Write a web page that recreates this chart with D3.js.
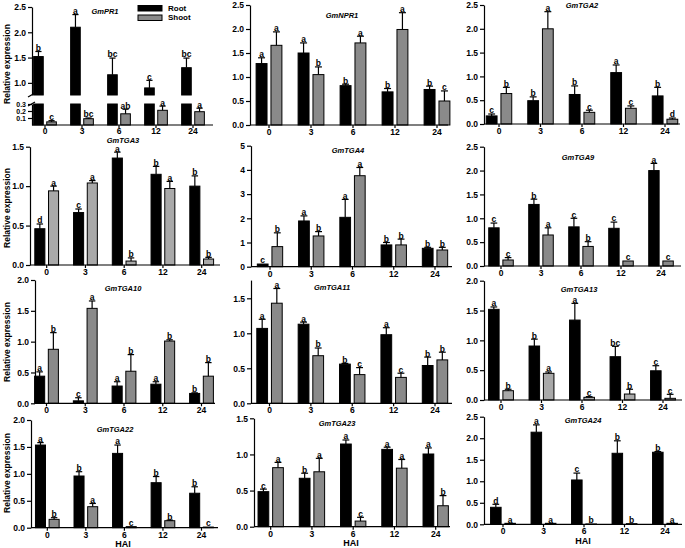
<!DOCTYPE html>
<html><head><meta charset="utf-8">
<script src="https://cdn.jsdelivr.net/npm/d3@7"></script>
<style>
body{margin:0;background:#fff}
svg text{font-family:"Liberation Sans",Arial,sans-serif;font-weight:bold;fill:#000}
</style></head><body>
<svg id="chart" width="685" height="548"></svg>
<script>
// ---------------- DATA ----------------
const hai = ["0","3","6","12","24"];
const series = ["Root","Shoot"];
const genes = ["GmPR1","GmNPR1","GmTGA2","GmTGA3","GmTGA4","GmTGA9","GmTGA10","GmTGA11","GmTGA13","GmTGA22","GmTGA23","GmTGA24"];

const pr1Root = [1.52,2.10,1.16,0.90,1.30];   const pr1RootSE = [0.10,0.25,0.33,0.15,0.19];
const pr1Shoot = [0.045,0.09,0.16,0.21,0.19]; const pr1ShootSE = [0.017,0.01,0.065,0.06,0.05];
const pr1RootSig = ["b","a","bc","c","bc"];   const pr1ShootSig = ["c","bc","ab","a","a"];

const npr1Root = [1.28,1.50,0.82,0.69,0.74];  const npr1RootSE = [0.12,0.21,0.03,0.07,0.07];
const npr1Shoot = [1.66,1.05,1.71,1.99,0.50]; const npr1ShootSE = [0.28,0.16,0.14,0.35,0.21];
const npr1RootSig = ["a","a","b","b","b"];    const npr1ShootSig = ["a","b","a","a","c"];

const tga2Root = [0.17,0.49,0.62,1.08,0.59];  const tga2RootSE = [0.04,0.08,0.18,0.16,0.18];
const tga2Shoot = [0.64,2.00,0.245,0.33,0.10];const tga2ShootSE = [0.13,0.36,0.045,0.05,0.025];
const tga2RootSig = ["c","b","b","a","b"];    const tga2ShootSig = ["b","a","c","c","d"];

const tga3Root = [0.46,0.665,1.356,1.15,1.00];const tga3RootSE = [0.06,0.045,0.075,0.10,0.13];
const tga3Shoot = [0.94,1.04,0.05,0.97,0.076];const tga3ShootSE = [0.06,0.03,0.04,0.09,0.021];
const tga3RootSig = ["d","c","a","b","b"];    const tga3ShootSig = ["a","a","b","a","b"];

const tga4Root = [0.11,1.89,2.04,0.90,0.76];  const tga4RootSE = [0,0.21,0.74,0.10,0.04];
const tga4Shoot = [0.83,1.27,3.76,0.90,0.69]; const tga4ShootSE = [0.57,0.18,0.34,0.24,0.11];
const tga4RootSig = ["c","a","a","b","b"];    const tga4ShootSig = ["b","b","a","b","b"];

const tga9Root = [0.80,1.29,0.82,0.79,2.00];  const tga9RootSE = [0.10,0.11,0.18,0.13,0.15];
const tga9Shoot = [0.126,0.65,0.41,0.105,0.105]; const tga9ShootSE = [0.05,0.15,0.10,0,0];
const tga9RootSig = ["c","b","c","c","a"];    const tga9ShootSig = ["c","a","b","c","c"];

const tga10Root = [0.44,0.04,0.28,0.31,0.16]; const tga10RootSE = [0.07,0.05,0.07,0.04,0.01];
const tga10Shoot = [0.876,1.54,0.52,1.01,0.44]; const tga10ShootSE = [0.27,0.12,0.27,0.02,0.22];
const tga10RootSig = ["a","c","a","a","b"];   const tga10ShootSig = ["b","a","b","b","b"];

const tga11Root = [1.07,1.13,0.56,0.98,0.54]; const tga11RootSE = [0.13,0.03,0.01,0.10,0.12];
const tga11Shoot = [1.43,0.68,0.41,0.37,0.62]; const tga11ShootSE = [0.21,0.11,0.10,0.06,0.11];
const tga11RootSig = ["a","a","b","a","b"];   const tga11ShootSig = ["a","b","c","c","b"];

const tga13Root = [1.52,0.905,1.34,0.726,0.49]; const tga13RootSE = [0.04,0.115,0.28,0.174,0.085];
const tga13Shoot = [0.156,0.447,0.045,0.10,0.028]; const tga13ShootSE = [0.024,0.023,0.011,0.08,0.067];
const tga13RootSig = ["a","b","a","bc","c"];  const tga13ShootSig = ["b","a","c","b","c"];

const tga22Root = [1.535,0.96,1.38,0.836,0.64]; const tga22RootSE = [0.045,0.08,0.155,0.114,0.12];
const tga22Shoot = [0.155,0.39,0.02,0.13,0.012]; const tga22ShootSE = [0.031,0.06,0,0.01,0];
const tga22RootSig = ["a","b","a","b","b"];   const tga22ShootSig = ["b","a","c","b","c"];

const tga23Root = [0.485,0.67,1.144,1.07,1.006]; const tga23RootSE = [0.035,0.07,0.056,0.03,0.084];
const tga23Shoot = [0.817,0.76,0.078,0.81,0.29]; const tga23ShootSE = [0.073,0.186,0.052,0.12,0.14];
const tga23RootSig = ["c","b","a","a","a"];   const tga23ShootSig = ["a","a","c","a","b"];

const tga24Root = [0.395,2.14,1.03,1.65,1.674]; const tga24RootSE = [0.07,0.17,0.16,0.29,0.016];
const tga24Shoot = [0.023,0.023,0.008,0.015,0.023]; const tga24ShootSE = [0,0,0,0,0];
const tga24RootSig = ["d","a","c","b","b"];   const tga24ShootSig = ["a","a","b","b","a"];

const yTicks = {
  GmPR1:{low:[0.1,0.2,0.3], high:[1.0,1.5,2.0,2.5]},
  GmNPR1:[0,0.5,1,1.5,2,2.5], GmTGA2:[0,0.5,1,1.5,2,2.5], GmTGA3:[0,0.5,1,1.5],
  GmTGA4:[0,1,2,3,4,5], GmTGA9:[0,0.5,1,1.5,2,2.5], GmTGA10:[0,0.5,1,1.5,2],
  GmTGA11:[0,0.5,1,1.5], GmTGA13:[0,0.5,1,1.5,2], GmTGA22:[0,0.5,1,1.5,2],
  GmTGA23:[0,0.5,1,1.5], GmTGA24:[0,0.5,1,1.5,2,2.5]
};

const geneTable = [
  [pr1Root,pr1RootSE,pr1Shoot,pr1ShootSE,pr1RootSig,pr1ShootSig],
  [npr1Root,npr1RootSE,npr1Shoot,npr1ShootSE,npr1RootSig,npr1ShootSig],
  [tga2Root,tga2RootSE,tga2Shoot,tga2ShootSE,tga2RootSig,tga2ShootSig],
  [tga3Root,tga3RootSE,tga3Shoot,tga3ShootSE,tga3RootSig,tga3ShootSig],
  [tga4Root,tga4RootSE,tga4Shoot,tga4ShootSE,tga4RootSig,tga4ShootSig],
  [tga9Root,tga9RootSE,tga9Shoot,tga9ShootSE,tga9RootSig,tga9ShootSig],
  [tga10Root,tga10RootSE,tga10Shoot,tga10ShootSE,tga10RootSig,tga10ShootSig],
  [tga11Root,tga11RootSE,tga11Shoot,tga11ShootSE,tga11RootSig,tga11ShootSig],
  [tga13Root,tga13RootSE,tga13Shoot,tga13ShootSE,tga13RootSig,tga13ShootSig],
  [tga22Root,tga22RootSE,tga22Shoot,tga22ShootSE,tga22RootSig,tga22ShootSig],
  [tga23Root,tga23RootSE,tga23Shoot,tga23ShootSE,tga23RootSig,tga23ShootSig],
  [tga24Root,tga24RootSE,tga24Shoot,tga24ShootSE,tga24RootSig,tga24ShootSig]
];

// ---------------- LAYOUT ----------------
const frames = [
  {x0:32, xEnd:213, c0:45, c4:193, yBase:125, broken:true, title:[105,11], ylab:64, xPad:0},
  {x0:250, xEnd:448, c0:269, c4:437, yBase:125, yMax:2.5, yMaxPx:5, title:[342,15]},
  {x0:484, xEnd:680, c0:499, c4:665, yBase:124, yMax:2.5, yMaxPx:5, title:[582,5]},
  {x0:30, xEnd:220, c0:46.7, c4:201.7, yBase:265, yMax:1.5, yMaxPx:146.7, title:[123,140.2], ylab:208, shoot:"#a9a9a9"},
  {x0:251, xEnd:452, c0:270, c4:435, yBase:266.7, yMax:5, yMaxPx:145.7, title:[348,150], intTicks:true},
  {x0:484, xEnd:681, c0:501, c4:661, yBase:266, yMax:2.5, yMaxPx:146.7, title:[578,157]},
  {x0:35, xEnd:215, c0:46.5, c4:201.5, yBase:403.3, yMax:2.0, yMaxPx:280, title:[123,288], ylab:342},
  {x0:251, xEnd:452, c0:269.5, c4:435, yBase:403.3, yMax:1.5, yMaxPx:298.3, axisTop:1.76, title:[332,287]},
  {x0:484, xEnd:682, c0:501, c4:663, yBase:400, yMax:2.0, yMaxPx:280.7, title:[579,289], shoot:"#a9a9a9"},
  {x0:31, xEnd:218, c0:47.3, c4:201.5, yBase:527.7, yMax:2.0, yMaxPx:420, title:[115,429], ylab:473, hai:[123,544]},
  {x0:254, xEnd:450, c0:270.7, c4:435.7, yBase:526.7, yMax:1.5, yMaxPx:418.3, title:[337,423], hai:[351,543]},
  {x0:484, xEnd:682, c0:503, c4:665, yBase:524.3, yMax:2.5, yMaxPx:416.7, title:[583,420], hai:[583,541]}
];
const rootColor = "#000000", shootColor = "#8a8a8a";
const fmt1 = d3.format(".1f"), fmt0 = d3.format("d");

const svg = d3.select("#chart");

function styleAxis(sel, fs){
  sel.selectAll("path,line").attr("stroke","#000").attr("stroke-width",1.2);
  sel.selectAll("text").style("font-size",(fs||8.5)+"px");
}

function drawPanel(i){
  const f = frames[i], gene = genes[i], d = geneTable[i];
  const g = svg.append("g").attr("class","panel");
  const step = (f.c4 - f.c0)/4;
  const x = d3.scaleBand().domain(hai).range([f.c0 - step/2, f.c4 + step/2]);
  const xi = d3.scaleBand().domain(series).range([0, step]).paddingInner(0.265).paddingOuter(0.545);
  const bw = xi.bandwidth();
  const colors = {Root: rootColor, Shoot: f.shoot || shootColor};

  let yPos, segs;
  if (f.broken){
    const yLow = d3.scaleLinear().domain([0,0.3]).range([f.yBase,104]);
    const yHigh = d3.scaleLinear().domain([0.76,2.5]).range([95,7]);
    yPos = v => v <= 0.3 ? yLow(v) : yHigh(v);
    segs = {yLow, yHigh};
  } else {
    const y = d3.scaleLinear().domain([0,f.yMax]).range([f.yBase,f.yMaxPx]);
    yPos = y; segs = {y};
  }

  const bars = [];
  hai.forEach((c,k)=>{
    bars.push({cat:c, s:"Root", v:d[0][k], se:d[1][k], sig:d[4][k]});
    bars.push({cat:c, s:"Shoot", v:d[2][k], se:d[3][k], sig:d[5][k]});
  });

  bars.forEach(b=>{
    const bx = x(b.cat) + xi(b.s);
    const cx = bx + bw/2;
    if (f.broken){
      const lowTop = Math.min(b.v, 0.3);
      g.append("rect").attr("x",bx).attr("y",segs.yLow(lowTop)).attr("width",bw)
        .attr("height",f.yBase - segs.yLow(lowTop)).attr("fill",colors[b.s]).attr("stroke","#000").attr("stroke-width",1);
      if (b.v > 0.3){
        g.append("rect").attr("x",bx).attr("y",segs.yHigh(b.v)).attr("width",bw)
          .attr("height",segs.yHigh(0.76) - segs.yHigh(b.v)).attr("fill",colors[b.s]).attr("stroke","#000").attr("stroke-width",1);
      }
    } else {
      g.append("rect").attr("x",bx).attr("y",yPos(b.v)).attr("width",bw)
        .attr("height",Math.max(0.5,f.yBase - yPos(b.v))).attr("fill",colors[b.s]).attr("stroke","#000").attr("stroke-width",1);
    }
    const top = b.v + b.se;
    if (b.se > 0){
      g.append("line").attr("x1",cx).attr("x2",cx).attr("y1",yPos(b.v)).attr("y2",yPos(top)).attr("stroke","#000").attr("stroke-width",1.2);
      g.append("line").attr("x1",cx-bw*0.32).attr("x2",cx+bw*0.32).attr("y1",yPos(top)).attr("y2",yPos(top)).attr("stroke","#000").attr("stroke-width",1.2);
    }
    g.append("text").attr("x",cx).attr("y",yPos(top)-0.6).attr("text-anchor","middle")
      .style("font-size","8.5px").text(b.sig);
  });

  if (f.broken){
    const aL = g.append("g").attr("transform",`translate(${f.x0},0)`)
      .call(d3.axisLeft(segs.yLow).tickValues(yTicks[gene].low).tickFormat(fmt1).tickSize(4).tickSizeOuter(0).tickPadding(2));
    styleAxis(aL, 7);
    const aH = g.append("g").attr("transform",`translate(${f.x0},0)`)
      .call(d3.axisLeft(segs.yHigh).tickValues(yTicks[gene].high).tickFormat(fmt1).tickSize(4).tickSizeOuter(0).tickPadding(2));
    styleAxis(aH);
    g.append("line").attr("x1",f.x0-4).attr("x2",f.x0+3).attr("y1",97).attr("y2",93).attr("stroke","#000").attr("stroke-width",1.2);
    g.append("line").attr("x1",f.x0-4).attr("x2",f.x0+3).attr("y1",106).attr("y2",102).attr("stroke","#000").attr("stroke-width",1.2);
  } else {
    const yAx = f.axisTop ? d3.scaleLinear().domain([0,f.axisTop]).range([f.yBase, segs.y(f.axisTop)]) : segs.y;
    const aL = g.append("g").attr("transform",`translate(${f.x0},0)`)
      .call(d3.axisLeft(yAx).tickValues(yTicks[gene]).tickFormat(f.intTicks?fmt0:fmt1).tickSize(4).tickSizeOuter(0).tickPadding(2));
    styleAxis(aL);
  }
  const ax = g.append("g").attr("transform",`translate(0,${f.yBase})`)
    .call(d3.axisBottom(x).tickSize(3).tickSizeOuter(0).tickPadding(f.xPad===undefined?1:f.xPad));
  ax.select(".domain").remove();
  styleAxis(ax);
  g.append("line").attr("x1",f.x0).attr("x2",f.xEnd).attr("y1",f.yBase).attr("y2",f.yBase).attr("stroke","#000").attr("stroke-width",1.2);

  g.append("text").attr("x",f.title[0]).attr("y",f.title[1]).attr("text-anchor","middle")
    .attr("dominant-baseline","central").style("font-size","7.5px").style("font-style","italic").text(gene);
  if (f.ylab){
    g.append("text").attr("transform",`translate(7,${f.ylab}) rotate(-90)`).attr("text-anchor","middle")
      .attr("dominant-baseline","central").style("font-size","8.5px").text("Relative expression");
  }
  if (f.hai){
    g.append("text").attr("x",f.hai[0]).attr("y",f.hai[1]).attr("text-anchor","middle")
      .attr("dominant-baseline","central").style("font-size","9px").text("HAI");
  }
}

genes.forEach((gname,i)=>drawPanel(i));

const lg = svg.append("g");
series.forEach((s,k)=>{
  lg.append("rect").attr("x",138).attr("y",5.5+k*9.5).attr("width",24).attr("height",5.5)
    .attr("fill", s==="Root"?rootColor:shootColor).attr("stroke","#000").attr("stroke-width",1);
  lg.append("text").attr("x",168).attr("y",8.3+k*9.5).attr("dominant-baseline","central")
    .style("font-size","8px").text(s);
});
</script>
</body></html>
